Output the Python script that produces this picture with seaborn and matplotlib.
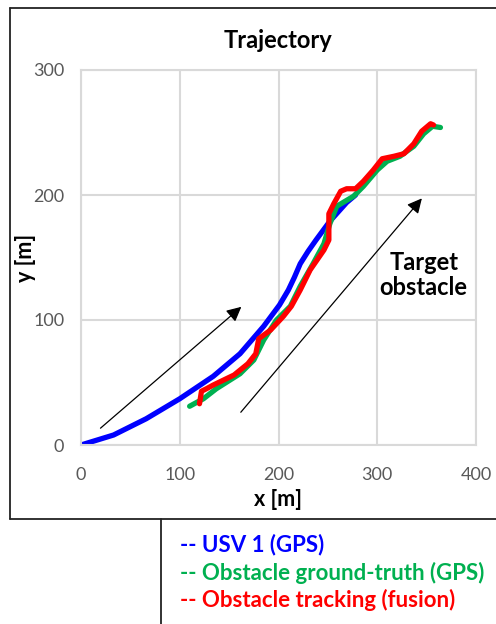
import matplotlib
matplotlib.use("Agg")
import matplotlib.pyplot as plt
from matplotlib.lines import Line2D
import seaborn as sns
import pandas as pd

# USV 1 (GPS)
usv_x = [0, 33, 66, 100, 134, 161, 185, 201, 210, 216, 222, 230, 238, 252, 269, 278]
usv_y = [0, 8, 21, 37, 55, 73, 95, 112, 124, 134, 145, 155, 164, 179, 194, 200]

# Obstacle ground-truth (GPS)
gt_x = [110, 124, 137, 161, 175, 185, 198, 212, 222, 235, 246, 252, 259, 276,
        286, 300, 310, 323, 337, 347, 356, 364]
gt_y = [31, 37, 45, 57, 68, 84, 100, 111, 127, 145, 161, 177, 191, 199,
        207, 220, 227, 231, 239, 249, 255, 254]

# Obstacle tracking (fusion)
trk_x = [120, 122, 127, 134, 155, 169, 177, 180, 192, 205, 213, 222, 232, 246, 251,
         251, 256, 263, 269, 278, 286, 296, 305, 317, 327, 337, 345, 354, 357]
trk_y = [33, 43, 45, 48, 56, 65, 73, 85, 92, 103, 111, 124, 140, 156, 164,
         185, 193, 203, 205, 205, 211, 220, 229, 231, 233, 241, 251, 257, 256]

series_names = ["-- USV 1 (GPS)", "-- Obstacle ground-truth (GPS)", "-- Obstacle tracking (fusion)"]
series_colors = ["#0000ff", "#00b050", "#ff0000"]

x_ticks = [0, 100, 200, 300, 400]
y_ticks = [0, 100, 200, 300]

sns.set_theme(style="whitegrid")
plt.rcParams["font.family"] = ["Lato", "DejaVu Sans"]

W, H = 496, 624
fig = plt.figure(figsize=(W / 100, H / 100), dpi=100)
ax = fig.add_axes([81 / W, (H - 445) / H, (476 - 81) / W, (445 - 70) / H])

frames = [
    pd.DataFrame({"x": usv_x, "y": usv_y}),
    pd.DataFrame({"x": gt_x, "y": gt_y}),
    pd.DataFrame({"x": trk_x, "y": trk_y}),
]
for df, c in zip(frames, series_colors):
    sns.lineplot(data=df, x="x", y="y", sort=False, estimator=None, ax=ax,
                 color=c, linewidth=3.8, solid_capstyle="round", solid_joinstyle="round")

ax.set_xlim(0, 400)
ax.set_ylim(0, 300)
ax.set_xticks(x_ticks)
ax.set_yticks(y_ticks)
ax.grid(True, color="#d9d9d9", linewidth=1.5)
for s in ax.spines.values():
    s.set_color("#d9d9d9")
    s.set_linewidth(1.5)
ax.tick_params(axis="both", colors="#595959", labelsize=13, length=0)
ax.tick_params(axis="x", pad=16)
ax.tick_params(axis="y", pad=12)
ax.set_xlabel("x [m]", fontsize=15.5, fontweight="bold", color="black", labelpad=4)
ax.set_ylabel("y [m]", fontsize=15.5, fontweight="bold", color="black", labelpad=-2)
ax.set_title("Trajectory", fontsize=17, fontweight="bold", color="black", pad=16)

arrow = dict(arrowstyle="-|>", color="black", lw=0.9, mutation_scale=22)
ax.annotate("", xy=(164.5, 112), xytext=(17.6, 12), arrowprops=arrow)
ax.annotate("", xy=(347, 199), xytext=(160, 24.5), arrowprops=arrow)
ax.text(347, 136, "Target\nobstacle", ha="center", va="center", fontsize=17,
        fontweight="bold", color="black", linespacing=1.1)

# outer frame and legend cell
def fig_line(xs, ys):
    fig.add_artist(Line2D([x / W for x in xs], [1 - y / H for y in ys],
                          color="#222222", linewidth=1.3))

fig_line([9.5, 9.5], [7.5, 519])
fig_line([9.5, 496], [7.5, 7.5])
fig_line([9.5, 496], [519, 519])
fig_line([161, 161], [519, 624])

for i, (name, c) in enumerate(zip(series_names, series_colors)):
    fig.text(180 / W, 1 - (545 + 27.5 * i) / H, name, color=c, fontsize=16,
             fontweight="bold", ha="left", va="center")

fig.savefig("out.png", dpi=100)
